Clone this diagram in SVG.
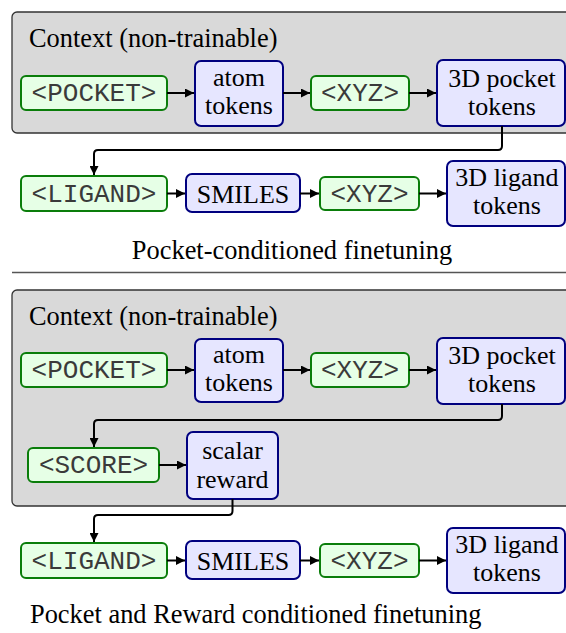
<svg xmlns="http://www.w3.org/2000/svg" width="566" height="633" viewBox="0 0 566 633">
  <defs>
    <marker id="arrow" viewBox="0 0 9 9" refX="9" refY="4.5" markerWidth="9" markerHeight="9" markerUnits="userSpaceOnUse" orient="auto">
      <path d="M0,0 L9,4.5 L0,9 Z" fill="#000"/>
    </marker>
    <style>
      .ctx { fill: #d9d9d9; stroke: #333; stroke-width: 1.3; }
      .tok { fill: #e6ffe6; stroke: #0a7d0a; stroke-width: 2; }
      .emb { fill: #e6e6ff; stroke: #00007f; stroke-width: 2; }
      .mono { font-family: "Liberation Mono", "Courier New", monospace; font-size: 26px; fill: #3a3a3a; text-anchor: middle; }
      .serif { font-family: "Liberation Serif", "Times New Roman", serif; font-size: 26px; fill: #000; text-anchor: middle; }
      .label { font-family: "Liberation Serif", "Times New Roman", serif; font-size: 26.4px; fill: #000; }
      .conn path { fill: none; stroke: #000; stroke-width: 2; marker-end: url(#arrow); }
      .sep { stroke: #555; stroke-width: 1.5; }
    </style>
  </defs>

  <!-- Panel 1: pocket-conditioned -->
  <g id="context1">
    <rect class="ctx" x="12" y="12" width="580" height="121" rx="5"/>
    <text class="label" x="29" y="47">Context (non-trainable)</text>
  </g>
  <g id="p1-pocket">
    <rect class="tok" x="21" y="76" width="146" height="34" rx="5"/>
    <text class="mono" x="94" y="101">&lt;POCKET&gt;</text>
  </g>
  <g id="p1-atom">
    <rect class="emb" x="195" y="61" width="88" height="65" rx="6"/>
    <text class="serif" x="239" y="86">atom</text>
    <text class="serif" x="239" y="114">tokens</text>
  </g>
  <g id="p1-xyz">
    <rect class="tok" x="311" y="76" width="98" height="34" rx="5"/>
    <text class="mono" x="360" y="101">&lt;XYZ&gt;</text>
  </g>
  <g id="p1-pocket3d">
    <rect class="emb" x="437" y="60" width="128" height="66" rx="6"/>
    <text class="serif" x="502" y="87">3D pocket</text>
    <text class="serif" x="502" y="115">tokens</text>
  </g>
  <g id="p1-ligand">
    <rect class="tok" x="21" y="176" width="146" height="35" rx="5"/>
    <text class="mono" x="94" y="202">&lt;LIGAND&gt;</text>
  </g>
  <g id="p1-smiles">
    <rect class="emb" x="186" y="174" width="114" height="38" rx="6"/>
    <text class="serif" x="243" y="203">SMILES</text>
  </g>
  <g id="p1-xyz2">
    <rect class="tok" x="320" y="177" width="99" height="33" rx="5"/>
    <text class="mono" x="369.5" y="202">&lt;XYZ&gt;</text>
  </g>
  <g id="p1-ligand3d">
    <rect class="emb" x="447" y="161" width="118" height="65" rx="6"/>
    <text class="serif" x="507" y="186">3D ligand</text>
    <text class="serif" x="507" y="214">tokens</text>
  </g>
  <text id="caption1" class="label" x="292" y="259" text-anchor="middle">Pocket-conditioned finetuning</text>

  <line class="sep" x1="12" y1="272.5" x2="566" y2="272.5"/>

  <!-- Panel 2: pocket and reward conditioned -->
  <g id="context2">
    <rect class="ctx" x="12" y="290" width="580" height="216" rx="5"/>
    <text class="label" x="29" y="325">Context (non-trainable)</text>
  </g>
  <g id="p2-pocket">
    <rect class="tok" x="21" y="353" width="146" height="34" rx="5"/>
    <text class="mono" x="94" y="378">&lt;POCKET&gt;</text>
  </g>
  <g id="p2-atom">
    <rect class="emb" x="195" y="339" width="88" height="63" rx="6"/>
    <text class="serif" x="239" y="363">atom</text>
    <text class="serif" x="239" y="391">tokens</text>
  </g>
  <g id="p2-xyz">
    <rect class="tok" x="311" y="353" width="98" height="34" rx="5"/>
    <text class="mono" x="360" y="378">&lt;XYZ&gt;</text>
  </g>
  <g id="p2-pocket3d">
    <rect class="emb" x="437" y="338" width="128" height="66" rx="6"/>
    <text class="serif" x="502" y="364">3D pocket</text>
    <text class="serif" x="502" y="392">tokens</text>
  </g>
  <g id="p2-score">
    <rect class="tok" x="28" y="448" width="131" height="34" rx="5"/>
    <text class="mono" x="93.5" y="473">&lt;SCORE&gt;</text>
  </g>
  <g id="p2-reward">
    <rect class="emb" x="187" y="432" width="91" height="67" rx="6"/>
    <text class="serif" x="232.5" y="459">scalar</text>
    <text class="serif" x="232.5" y="488">reward</text>
  </g>
  <g id="p2-ligand">
    <rect class="tok" x="21" y="543" width="146" height="35" rx="5"/>
    <text class="mono" x="94" y="569">&lt;LIGAND&gt;</text>
  </g>
  <g id="p2-smiles">
    <rect class="emb" x="186" y="541" width="114" height="38" rx="6"/>
    <text class="serif" x="243" y="570">SMILES</text>
  </g>
  <g id="p2-xyz2">
    <rect class="tok" x="320" y="544" width="99" height="33" rx="5"/>
    <text class="mono" x="369.5" y="569">&lt;XYZ&gt;</text>
  </g>
  <g id="p2-ligand3d">
    <rect class="emb" x="447" y="528" width="118" height="65" rx="6"/>
    <text class="serif" x="507" y="553">3D ligand</text>
    <text class="serif" x="507" y="581">tokens</text>
  </g>
  <text id="caption2" class="label" x="30" y="623">Pocket and Reward conditioned finetuning</text>

  <!-- Connectors -->
  <g id="connectors" class="conn">
    <path d="M167,93 H194"/>
    <path d="M283,93 H310"/>
    <path d="M409,93 H436"/>
    <path d="M502,126 V146 Q502,150 498,150 H98 Q94,150 94,154 V175"/>
    <path d="M167,193.5 H185"/>
    <path d="M300,193.5 H319"/>
    <path d="M419,193.5 H446"/>

    <path d="M167,370 H194"/>
    <path d="M283,370 H310"/>
    <path d="M409,370 H436"/>
    <path d="M502,404 V416 Q502,420 498,420 H98 Q94,420 94,424 V447"/>
    <path d="M159,465 H186"/>
    <path d="M232.5,499 V511 Q232.5,515 228.5,515 H98 Q94,515 94,519 V542"/>
    <path d="M167,560.5 H185"/>
    <path d="M300,560.5 H319"/>
    <path d="M419,560.5 H446"/>
  </g>
</svg>
